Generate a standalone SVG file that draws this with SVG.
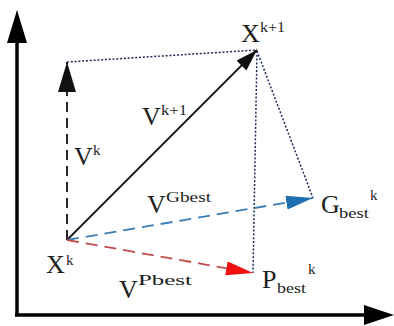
<svg xmlns="http://www.w3.org/2000/svg" width="394" height="326" viewBox="0 0 394 326">
<defs>
<style>
.t{font-family:"Liberation Serif","Times New Roman",serif;fill:#1e1e1e}
.m{font-size:26px}
.s{font-size:15px}
.axis{stroke:#000;stroke-width:3.5;fill:none}
.dot{stroke:#1c2a55;stroke-width:1.5;stroke-dasharray:2 1.8;fill:none}
</style>
<marker id="ah" markerUnits="userSpaceOnUse" markerWidth="24" markerHeight="16" refX="22" refY="7" orient="auto"><path d="M0,0 L22,7 L0,14 Z" fill="#111"/></marker>
<marker id="ahk" markerUnits="userSpaceOnUse" markerWidth="30" markerHeight="20" refX="30" refY="9" orient="auto"><path d="M0,0 L30,9 L0,18 Z" fill="#111"/></marker>
<marker id="ahb" markerUnits="userSpaceOnUse" markerWidth="28" markerHeight="16" refX="27" refY="7" orient="auto"><path d="M0,0 L27,7 L0,14 Z" fill="#1f6fb0"/></marker>
<marker id="ahr" markerUnits="userSpaceOnUse" markerWidth="28" markerHeight="16" refX="27" refY="7" orient="auto"><path d="M0,0 L27,7 L0,14 Z" fill="#f01010"/></marker>
</defs>
<g id="axes">
<line class="axis" x1="17" y1="316" x2="17" y2="40"/>
<path d="M17,10 L27,43 L7,43 Z" fill="#000"/>
<line class="axis" x1="15" y1="315" x2="366" y2="315"/>
<path d="M394,315 L364,305 L364,325 Z" fill="#000"/>
</g>
<g id="connectors">
<line class="dot" x1="67" y1="62" x2="257" y2="50"/>
<line class="dot" x1="257" y1="51" x2="253" y2="273"/>
<line class="dot" x1="257" y1="51" x2="313" y2="198"/>
<line x1="67" y1="240" x2="67" y2="62" stroke="#111" stroke-width="1.8" stroke-dasharray="10 6" marker-end="url(#ahk)"/>
<line x1="67" y1="240" x2="257" y2="50" stroke="#111" stroke-width="1.8" marker-end="url(#ah)"/>
<line x1="67" y1="240" x2="313" y2="198" stroke="#3a7cb6" stroke-width="1.8" stroke-dasharray="12 7" marker-end="url(#ahb)"/>
<line x1="67" y1="240" x2="253" y2="273" stroke="#c24a4a" stroke-width="1.8" stroke-dasharray="12 7" marker-end="url(#ahr)"/>
</g>
<g id="node-xk1"><text class="t m" x="241" y="42">X</text><text class="t s" x="260" y="32" textLength="25" lengthAdjust="spacingAndGlyphs">k+1</text></g>
<g id="label-vk1"><text class="t m" x="142" y="125">V</text><text class="t s" x="161" y="115" textLength="26" lengthAdjust="spacingAndGlyphs">k+1</text></g>
<g id="label-vk"><text class="t m" x="74" y="165">V</text><text class="t s" x="93" y="155">k</text></g>
<g id="label-vgbest"><text class="t m" x="147" y="213">V</text><text class="t s" x="166" y="202" textLength="45" lengthAdjust="spacingAndGlyphs">Gbest</text></g>
<g id="node-xk"><text class="t m" x="46" y="273">X</text><text class="t s" x="66" y="265">k</text></g>
<g id="label-vpbest"><text class="t m" x="119" y="298">V</text><text class="t s" x="138" y="285" textLength="54" lengthAdjust="spacingAndGlyphs">Pbest</text></g>
<g id="node-gbest"><text class="t m" x="321" y="213">G</text><text class="t s" x="339" y="218" textLength="30" lengthAdjust="spacingAndGlyphs">best</text><text class="t s" x="370" y="200">k</text></g>
<g id="node-pbest"><text class="t m" x="262" y="288">P</text><text class="t s" x="277" y="293" textLength="29" lengthAdjust="spacingAndGlyphs">best</text><text class="t s" x="308" y="274">k</text></g>
</svg>
